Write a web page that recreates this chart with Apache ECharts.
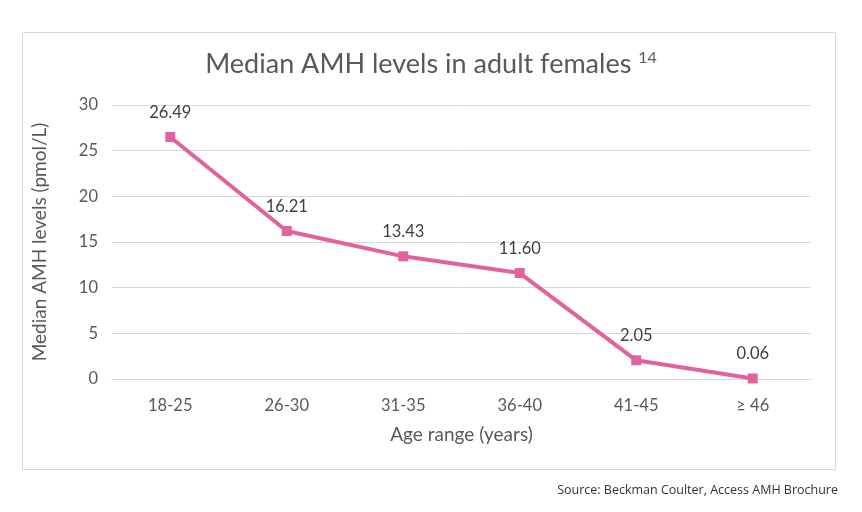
<!DOCTYPE html>
<html><head><meta charset="utf-8">
<script src="https://cdn.jsdelivr.net/npm/echarts@6/dist/echarts.min.js"></script>
<style>html,body{margin:0;padding:0;background:#fff}#c{width:862px;height:512px}</style>
</head><body><div id="c"></div>
<script>
const categories = ['18-25','26-30','31-35','36-40','41-45','≥ 46'];
const values = [26.49, 16.21, 13.43, 11.60, 2.05, 0.06];
const labels = ['26.49','16.21','13.43','11.60','2.05','0.06'];
const chart = echarts.init(document.getElementById('c'));
const font = 'Lato, "Open Sans", sans-serif';
chart.setOption({
  animation: false,
  title: {
    text: '{m|Median AMH levels in adult females }{s|14}',
    left: 'center', top: 45,
    textStyle: { fontWeight: 'normal', rich: {
      m: { fontSize: 27, color: '#595959', fontFamily: font, fontWeight: 'normal' },
      s: { fontSize: 16, color: '#595959', fontFamily: font, fontWeight: 'normal', verticalAlign: 'top', padding: [0,0,12,0] }
    }}
  },
  graphic: [
    { type: 'rect', shape: { x: 22.5, y: 32.5, width: 813, height: 437 }, style: { fill: 'none', stroke: '#d9d9d9', lineWidth: 1 }, z: -1 },
    { type: 'text', right: 24, top: 484, style: { text: 'Source: Beckman Coulter, Access AMH Brochure', font: '12.5px "Open Sans", sans-serif', fill: '#333' } }
  ],
  grid: { left: 112, right: 51, top: 105, bottom: 133 },
  xAxis: {
    type: 'category', data: categories,
    axisLine: { lineStyle: { color: '#d9d9d9' } },
    axisTick: { show: false },
    axisLabel: { color: '#595959', fontSize: 16.5, fontFamily: font, margin: 18 },
    name: 'Age range (years)', nameLocation: 'middle', nameGap: 46,
    nameTextStyle: { color: '#595959', fontSize: 19, fontFamily: font }
  },
  yAxis: {
    type: 'value', min: 0, max: 30, interval: 5,
    axisLine: { show: false }, axisTick: { show: false },
    splitLine: { lineStyle: { color: '#d9d9d9' } },
    axisLabel: { color: '#595959', fontSize: 16.5, fontFamily: font, margin: 14 },
    name: 'Median AMH levels (pmol/L)', nameLocation: 'middle', nameGap: 63,
    nameTextStyle: { color: '#595959', fontSize: 19, fontFamily: font }
  },
  series: [{
    type: 'line', data: values,
    lineStyle: { color: '#E2629F', width: 4 },
    itemStyle: { color: '#E2629F' },
    symbol: 'rect', symbolSize: 10,
    label: { show: true, position: 'top', distance: 11, color: '#404040', fontSize: 16.5, fontFamily: font,
      formatter: p => labels[p.dataIndex] }
  }]
});
</script></body></html>
